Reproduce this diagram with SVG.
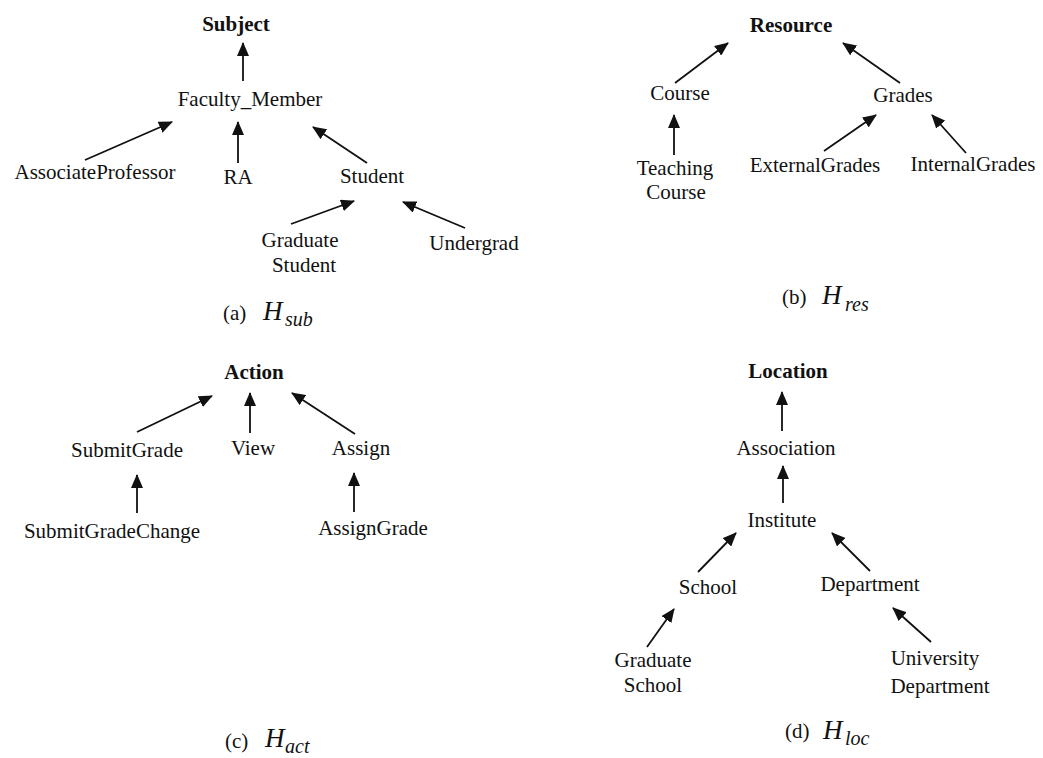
<svg xmlns="http://www.w3.org/2000/svg" width="1043" height="758" viewBox="0 0 1043 758">
<defs>
<marker id="ah" viewBox="0 0 14 12" refX="13" refY="6" markerWidth="14" markerHeight="12" markerUnits="userSpaceOnUse" orient="auto">
<path d="M0,0 L14,6 L0,12 z" fill="#111"/>
</marker>
<style>
text{font-family:"Liberation Serif","Times New Roman",serif;font-size:21px;fill:#111}
.n{text-anchor:middle}
.b{font-weight:bold}
.h{font-style:italic;font-size:27px}
.s{font-style:italic;font-size:20px}
.e{stroke:#111;stroke-width:1.8;fill:none;marker-end:url(#ah)}
</style>
</defs>
<rect width="1043" height="758" fill="#fff"/>
<g id="connectors">
<line class="e" x1="243" y1="81" x2="243" y2="43"/>
<line class="e" x1="85" y1="160" x2="172" y2="122"/>
<line class="e" x1="238" y1="163" x2="238" y2="122"/>
<line class="e" x1="367" y1="163" x2="313" y2="127"/>
<line class="e" x1="291" y1="224" x2="354" y2="201"/>
<line class="e" x1="465" y1="228" x2="403" y2="202"/>
<line class="e" x1="675" y1="83" x2="728" y2="43"/>
<line class="e" x1="900" y1="83" x2="843" y2="43"/>
<line class="e" x1="674" y1="155" x2="674" y2="115"/>
<line class="e" x1="824" y1="151" x2="876" y2="115"/>
<line class="e" x1="966" y1="153" x2="932" y2="115"/>
<line class="e" x1="137" y1="432" x2="212" y2="396"/>
<line class="e" x1="250" y1="433" x2="250" y2="393"/>
<line class="e" x1="355" y1="434" x2="292" y2="393"/>
<line class="e" x1="137" y1="513" x2="137" y2="475"/>
<line class="e" x1="354" y1="512" x2="354" y2="473"/>
<line class="e" x1="782" y1="431" x2="782" y2="392"/>
<line class="e" x1="783" y1="503" x2="783" y2="466"/>
<line class="e" x1="698" y1="572" x2="736" y2="533"/>
<line class="e" x1="870" y1="571" x2="832" y2="533"/>
<line class="e" x1="647" y1="647" x2="674" y2="609"/>
<line class="e" x1="931" y1="642" x2="893" y2="608"/>
</g>
<g id="subject"><text class="n b" x="236" y="31">Subject</text></g>
<g id="faculty_member"><text class="n" x="250" y="106">Faculty_Member</text></g>
<g id="associate_professor"><text class="n" x="95" y="179">AssociateProfessor</text></g>
<g id="ra"><text class="n" x="238" y="184">RA</text></g>
<g id="student"><text class="n" x="372" y="183">Student</text></g>
<g id="graduate_student"><text class="n" x="300" y="247">Graduate</text><text class="n" x="304" y="272">Student</text></g>
<g id="undergrad"><text class="n" x="474" y="250">Undergrad</text></g>
<g id="caption_a"><text x="223" y="320">(a)</text><text class="h" x="263" y="320">H</text><text class="s" x="285" y="326">sub</text></g>

<g id="resource"><text class="n b" x="791" y="32">Resource</text></g>
<g id="course"><text class="n" x="680" y="100">Course</text></g>
<g id="grades"><text class="n" x="903" y="102">Grades</text></g>
<g id="teaching_course"><text class="n" x="675" y="175">Teaching</text><text class="n" x="676" y="199">Course</text></g>
<g id="external_grades"><text class="n" x="815" y="172">ExternalGrades</text></g>
<g id="internal_grades"><text class="n" x="973" y="171">InternalGrades</text></g>
<g id="caption_b"><text x="782" y="304">(b)</text><text class="h" x="822" y="304">H</text><text class="s" x="845" y="311">res</text></g>

<g id="action"><text class="n b" x="254" y="379">Action</text></g>
<g id="submit_grade"><text class="n" x="127" y="457">SubmitGrade</text></g>
<g id="view"><text class="n" x="253" y="455">View</text></g>
<g id="assign"><text class="n" x="361" y="455">Assign</text></g>
<g id="submit_grade_change"><text class="n" x="112" y="538">SubmitGradeChange</text></g>
<g id="assign_grade"><text class="n" x="373" y="535">AssignGrade</text></g>
<g id="caption_c"><text x="225" y="748">(c)</text><text class="h" x="265" y="747">H</text><text class="s" x="285" y="753">act</text></g>

<g id="location"><text class="n b" x="788" y="378">Location</text></g>
<g id="association"><text class="n" x="786" y="455">Association</text></g>
<g id="institute"><text class="n" x="782" y="527">Institute</text></g>
<g id="school"><text class="n" x="708" y="594">School</text></g>
<g id="department"><text class="n" x="870" y="591">Department</text></g>
<g id="graduate_school"><text class="n" x="653" y="667">Graduate</text><text class="n" x="653" y="692">School</text></g>
<g id="university_department"><text class="n" x="935" y="665">University</text><text class="n" x="940" y="693">Department</text></g>
<g id="caption_d"><text x="785" y="738">(d)</text><text class="h" x="823" y="739">H</text><text class="s" x="845" y="745">loc</text></g>
</svg>
